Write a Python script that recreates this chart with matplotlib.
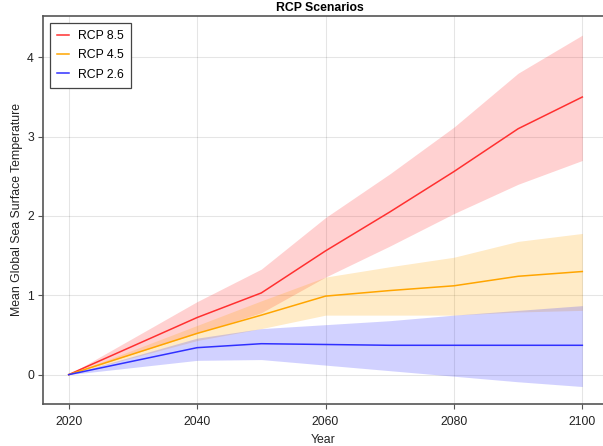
import matplotlib
matplotlib.use("Agg")
import matplotlib.pyplot as plt

plt.rcParams['font.family'] = ['Liberation Sans', 'DejaVu Sans']

years = [2020, 2040, 2050, 2060, 2070, 2080, 2090, 2100]

rcp85_mean = [0.0, 0.72, 1.03, 1.56, 2.05, 2.56, 3.10, 3.50]
rcp85_low = [0.0, 0.52, 0.78, 1.23, 1.62, 2.03, 2.40, 2.70]
rcp85_high = [0.0, 0.92, 1.33, 1.98, 2.53, 3.12, 3.80, 4.28]

rcp45_mean = [0.0, 0.52, 0.75, 0.99, 1.06, 1.12, 1.24, 1.30]
rcp45_low = [0.0, 0.43, 0.58, 0.75, 0.75, 0.75, 0.79, 0.81]
rcp45_high = [0.0, 0.62, 0.93, 1.23, 1.36, 1.48, 1.68, 1.78]

rcp26_mean = [0.0, 0.34, 0.39, 0.38, 0.37, 0.37, 0.37, 0.37]
rcp26_low = [0.0, 0.18, 0.19, 0.12, 0.05, -0.02, -0.09, -0.15]
rcp26_high = [0.0, 0.46, 0.58, 0.63, 0.68, 0.75, 0.81, 0.87]

labels = ["RCP 8.5", "RCP 4.5", "RCP 2.6"]
colors = ["#ff3030", "#ffa500", "#3030ff"]

fig = plt.figure(figsize=(6.03, 4.46), dpi=100)
ax = fig.add_axes([0.0708, 0.0942, 0.929, 0.8706])

series = [(rcp85_mean, rcp85_low, rcp85_high),
          (rcp45_mean, rcp45_low, rcp45_high),
          (rcp26_mean, rcp26_low, rcp26_high)]

for (m, lo, hi), lab, c in zip(series, labels, colors):
    ax.fill_between(years, lo, hi, color=c, alpha=0.22, linewidth=0)
    ax.plot(years, m, color=c, linewidth=1.1, label=lab)

ax.set_xlim(2015.95, 2103.2)
ax.set_ylim(-0.37, 4.525)
ax.set_xticks([2020, 2040, 2060, 2080, 2100])
ax.set_yticks([0, 1, 2, 3, 4])

ax.grid(True, color="#000000", alpha=0.1, linewidth=0.8)
ax.set_axisbelow(True)
for s in ["left", "bottom", "top"]:
    ax.spines[s].set_color("#555555")
    ax.spines[s].set_linewidth(1.2)
ax.spines["right"].set_visible(False)
ax.tick_params(direction="out", length=3.5, width=0.8, color="#555555",
               labelsize=8.8, labelcolor="#222222", pad=2.8)
ax.tick_params(axis="x", pad=5)

ax.set_title("RCP Scenarios", fontsize=8.8, fontweight="bold", pad=3.5, x=0.494)
ax.set_xlabel("Year", fontsize=8.8, labelpad=4.5, color="#222222")
ax.set_ylabel("Mean Global Sea Surface Temperature", fontsize=8.8, labelpad=3,
              color="#222222")

leg = ax.legend(loc="upper left", fontsize=8.8, fancybox=False,
                edgecolor="#444444", framealpha=1, borderaxespad=0.6,
                handlelength=0.95, handletextpad=0.7, labelspacing=0.58,
                borderpad=0.6)
leg.get_frame().set_linewidth(0.9)

fig.savefig("out.png", dpi=100)
